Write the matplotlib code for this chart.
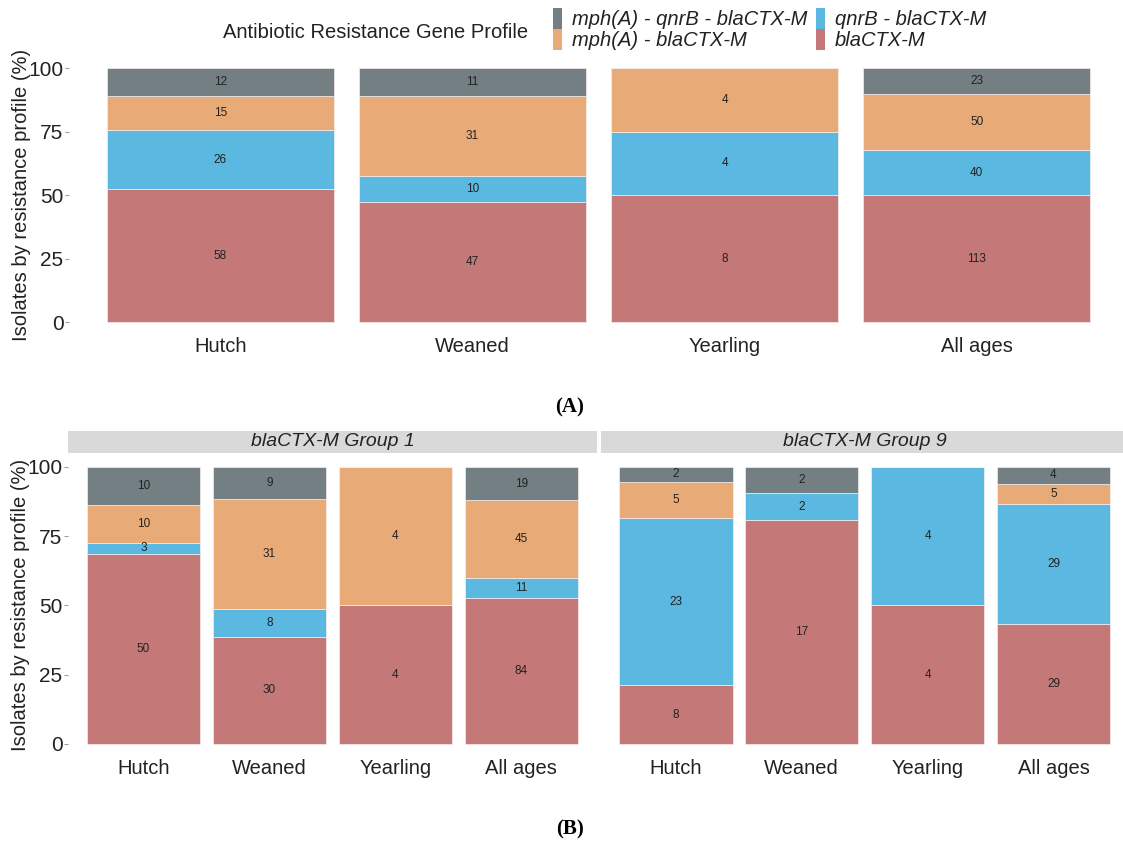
import numpy as np
import matplotlib
import matplotlib.pyplot as plt
from matplotlib.patches import Patch, Rectangle

matplotlib.use('Agg')
plt.rcParams['font.family'] = ['Liberation Sans', 'DejaVu Sans']

# isolate counts per age group, stacked bottom -> top
ages = ["Hutch", "Weaned", "Yearling", "All ages"]
profiles = ["blaCTX-M", "qnrB - blaCTX-M", "mph(A) - blaCTX-M", "mph(A) - qnrB - blaCTX-M"]
colors = ["#c47878", "#5bb8e0", "#e8ab78", "#737f82"]

all_bla = [58, 47, 8, 113]
all_qnrb = [26, 10, 4, 40]
all_mph = [15, 31, 4, 50]
all_mph_qnrb = [12, 11, 0, 23]

g1_bla = [50, 30, 4, 84]
g1_qnrb = [3, 8, 0, 11]
g1_mph = [10, 31, 4, 45]
g1_mph_qnrb = [10, 9, 0, 19]

g9_bla = [8, 17, 4, 29]
g9_qnrb = [23, 2, 4, 29]
g9_mph = [5, 0, 0, 5]
g9_mph_qnrb = [2, 2, 0, 4]

strip_titles = ["blaCTX-M Group 1", "blaCTX-M Group 9"]

W, H = 1123, 841
TXT = '#222222'


def px_axes(fig, x0, y_top, x1, y_bot):
    return fig.add_axes([x0 / W, 1 - y_bot / H, (x1 - x0) / W, (y_bot - y_top) / H])


def draw_panel(ax, series, show_ylabel=True):
    counts = np.array(series, dtype=float)
    totals = counts.sum(axis=0)
    pct = counts / totals * 100
    x = np.arange(len(ages))
    bottom = np.zeros(len(ages))
    for i, row in enumerate(pct):
        ax.bar(x, row, width=0.9, bottom=bottom, color=colors[i],
               edgecolor='#f4eeee', linewidth=0.5, clip_on=False)
        for j in range(len(ages)):
            if counts[i, j] > 0:
                ax.text(x[j], bottom[j] + row[j] / 2, f"{int(counts[i, j])}",
                        ha='center', va='center', fontsize=8.5, color=TXT)
        bottom += row
    ax.set_xlim(-0.6, 3.6)
    ax.set_ylim(0, 100)
    ax.set_xticks(x)
    ax.set_xticklabels(ages, fontsize=14.5, color=TXT)
    ax.set_yticks([0, 25, 50, 75, 100])
    ax.tick_params(axis='x', length=0, pad=11)
    ax.tick_params(axis='y', length=3, width=0.6, color='#888888', pad=1,
                   labelsize=15, labelcolor=TXT)
    for s in ax.spines.values():
        s.set_visible(False)
    if show_ylabel:
        ax.set_ylabel("Isolates by resistance profile (%)", fontsize=14.5, color=TXT)
    else:
        ax.set_yticklabels([])
        ax.tick_params(axis='y', length=0)


fig = plt.figure(figsize=(W / 100, H / 100), dpi=100)

# panel A
ax_a = px_axes(fig, 69, 68.3, 1128, 322)
draw_panel(ax_a, [all_bla, all_qnrb, all_mph, all_mph_qnrb])
ax_a.yaxis.set_label_coords(-0.036, 0.5)

# panel B
ax_b1 = px_axes(fig, 68, 467, 597, 743.7)
draw_panel(ax_b1, [g1_bla, g1_qnrb, g1_mph, g1_mph_qnrb])
ax_b1.yaxis.set_label_coords(-0.071, 0.5)
ax_b2 = px_axes(fig, 600.4, 467, 1129, 743.7)
draw_panel(ax_b2, [g9_bla, g9_qnrb, g9_mph, g9_mph_qnrb], show_ylabel=False)

# facet strips
for (x0, x1), title in zip([(68, 597), (600.7, 1129)], strip_titles):
    fig.patches.append(Rectangle((x0 / W, 1 - 453 / H), (x1 - x0) / W, 22 / H,
                                 transform=fig.transFigure, facecolor='#d9d9d9',
                                 edgecolor='none'))
    fig.text((x0 + x1) / 2 / W, 1 - 442 / H, title, ha='center', va='center',
             fontsize=14, style='italic', color=TXT)

# legend, title to the left of keys
fig.text(528 / W, 1 - 32 / H, "Antibiotic Resistance Gene Profile", ha='right',
         va='center', fontsize=14.5, color=TXT)
handles = [Patch(facecolor=colors[i], edgecolor='none') for i in [3, 2, 1, 0]]
labels = [profiles[i] for i in [3, 2, 1, 0]]
fig.legend(handles, labels, ncol=2, loc='center left',
           bbox_to_anchor=(543 / W, 1 - 29 / H), frameon=False,
           prop={'style': 'italic', 'size': 14.5}, handlelength=0.45,
           handleheight=1.2, handletextpad=0.5, labelspacing=0.0,
           columnspacing=0.4, borderpad=0, labelcolor=TXT)

fig.text(570 / W, 1 - 407 / H, "(A)", ha='center', va='center', fontsize=15,
         fontweight='bold', family='Liberation Serif')
fig.text(570 / W, 1 - 829 / H, "(B)", ha='center', va='center', fontsize=15,
         fontweight='bold', family='Liberation Serif')

fig.savefig("out.png", dpi=100)
